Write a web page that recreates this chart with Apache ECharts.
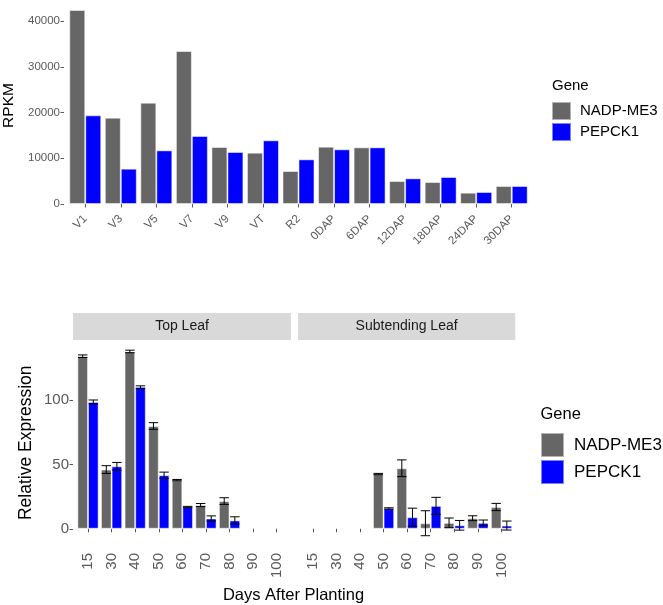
<!DOCTYPE html>
<html>
<head>
<meta charset="utf-8">
<script src="https://cdn.jsdelivr.net/npm/echarts@6/dist/echarts.min.js"></script>
<style>
  html, body { margin: 0; padding: 0; background: #fff; }
  #chart { width: 663px; height: 605px; }
</style>
</head>
<body>
<div id="chart"></div>
<script>
// RPKM by growth stage (top panel)
const stages = ['V1', 'V3', 'V5', 'V7', 'V9', 'VT', 'R2', '0DAP', '6DAP', '12DAP', '18DAP', '24DAP', '30DAP'];
const rpkmNadp = [42450, 18900, 22170, 33480, 12470, 11230, 7220, 12540, 12400, 5030, 4810, 2480, 3940];
const rpkmPepck = [19400, 7730, 11740, 14880, 11380, 13940, 9780, 11970, 12400, 5620, 5910, 2630, 3940];
const rpkmTicks = [0, 10000, 20000, 30000, 40000];

// relative expression by days after planting (bottom panels)
const days = ['15', '30', '40', '50', '60', '70', '80', '90', '100'];
const topNadpMean = [134, 46, 137.7, 79.8, 37.8, 18.4, 21.5, null, null];
const topNadpSe = [1, 3, 1, 2.6, 0.5, 1.2, 2.6, null, null];
const topPepckMean = [98.5, 48.5, 110, 41.6, 16.9, 8, 6.5, null, null];
const topPepckSe = [1.5, 3, 1, 2.4, 0.5, 2, 2.8, null, null];
const subNadpMean = [null, null, null, 42.5, 47, 4.3, 4.6, 8.2, 16.9];
const subNadpSe = [null, null, null, 0.5, 6.5, 9.7, 3.75, 1.9, 2.8];
const subPepckMean = [null, null, null, 15.8, 9, 17.8, 2.7, 4.6, 2.5];
const subPepckSe = [null, null, null, 0.5, 7, 6.6, 3.75, 2.2, 3.5];
const relTicks = [0, 50, 100];

const genes = ['NADP-ME3', 'PEPCK1'];
const geneColors = ['#666666', '#0000FF'];
const font = 'Liberation Sans, Arial, sans-serif';
const tickGray = '#595959';

const chart = echarts.init(document.getElementById('chart'));

function errData(means, ses) {
    const out = [];
    means.forEach((m, i) => {
        if (m == null) return;
        out.push([i, m - ses[i], m + ses[i]]);
    });
    return out;
}

function errorBar(side) {
    return (params, api) => {
        const idx = api.value(0);
        const lo = api.coord([idx, api.value(1)]);
        const hi = api.coord([idx, api.value(2)]);
        const band = api.size([1, 0])[0];
        const x = lo[0] + side * band * 0.225;
        const half = band * 0.2;
        const style = { stroke: '#000', lineWidth: 1 };
        return {
            type: 'group',
            children: [
                { type: 'line', shape: { x1: x, y1: lo[1], x2: x, y2: hi[1] }, style },
                { type: 'line', shape: { x1: x - half, y1: lo[1], x2: x + half, y2: lo[1] }, style },
                { type: 'line', shape: { x1: x - half, y1: hi[1], x2: x + half, y2: hi[1] }, style }
            ]
        };
    };
}

function bar(name, data, ax, color) {
    return {
        name: name,
        type: 'bar',
        xAxisIndex: ax,
        yAxisIndex: ax,
        data: data,
        barGap: '0%',
        barCategoryGap: '10%',
        itemStyle: { color: color, borderColor: 'rgba(255,255,255,0.5)', borderWidth: 1 },
        emphasis: { disabled: true }
    };
}

function errSeries(means, ses, ax, side) {
    return {
        name: 'err',
        type: 'custom',
        xAxisIndex: ax,
        yAxisIndex: ax,
        data: errData(means, ses),
        renderItem: errorBar(side),
        z: 5,
        silent: true
    };
}

const catAxis = (ax, labels, size, rotate, margin) => ({
    type: 'category',
    gridIndex: ax,
    data: labels,
    axisLine: { show: false },
    axisTick: { show: true, alignWithLabel: true, length: 3.5, lineStyle: { color: tickGray } },
    axisLabel: { color: tickGray, fontSize: size, fontFamily: font, rotate: rotate, margin: margin, interval: 0 }
});

const valAxis = (ax, min, max, ticks, size, offset, showLabels) => ({
    type: 'value',
    gridIndex: ax,
    min: min,
    max: max,
    offset: offset,
    splitLine: { show: false },
    axisLine: { show: false },
    axisTick: { show: showLabels, customValues: ticks, length: 3.5, lineStyle: { color: tickGray } },
    axisLabel: {
        show: showLabels, customValues: ticks, color: tickGray, fontSize: size, fontFamily: font, margin: 4,
        formatter: v => String(v)
    }
});

const topAxisY = valAxis(0, -1530, 44640, rpkmTicks, 11.5, 3.5, true);
topAxisY.name = 'RPKM';
topAxisY.nameLocation = 'middle';
topAxisY.nameGap = 44;
topAxisY.nameTextStyle = { color: '#000', fontSize: 15.5, fontFamily: font };

const relAxisY = valAxis(1, -12.6, 146.2, relTicks, 15, 3.2, true);
relAxisY.name = 'Relative Expression';
relAxisY.nameLocation = 'middle';
relAxisY.nameGap = 38;
relAxisY.nameTextStyle = { color: '#000', fontSize: 17.5, fontFamily: font };

chart.setOption({
    backgroundColor: '#fff',
    animation: false,
    textStyle: { fontFamily: font },
    title: [
        { text: 'Gene', left: 547, top: 73, textStyle: { fontSize: 15, fontWeight: 'normal', color: '#000', fontFamily: font } },
        { text: 'Gene', left: 535.5, top: 401, textStyle: { fontSize: 16.5, fontWeight: 'normal', color: '#000', fontFamily: font } }
    ],
    legend: [
        {
            data: genes, orient: 'vertical', left: 546, top: 96,
            icon: 'rect', itemWidth: 19, itemHeight: 18, itemGap: 1,
            selectedMode: false,
            textStyle: { fontSize: 15, color: '#000', fontFamily: font, padding: [0, 0, 0, 4] }
        },
        {
            data: genes, orient: 'vertical', left: 535, top: 427,
            icon: 'rect', itemWidth: 23, itemHeight: 24, itemGap: 1,
            selectedMode: false,
            textStyle: { fontSize: 17, color: '#000', fontFamily: font, padding: [0, 0, 0, 5] }
        }
    ],
    grid: [
        { left: 67.5, width: 462, top: 0, height: 211, outerBoundsMode: 'none' },
        { left: 76.2, width: 212.3, top: 340.5, height: 204.5, outerBoundsMode: 'none' },
        { left: 301, width: 212.3, top: 340.5, height: 204.5, outerBoundsMode: 'none' }
    ],
    xAxis: [
        catAxis(0, stages, 11.5, 45, 6),
        catAxis(1, days, 15, 90, 8),
        catAxis(2, days, 15, 90, 8)
    ],
    yAxis: [
        topAxisY,
        relAxisY,
        valAxis(2, -12.6, 146.2, relTicks, 15, 0, false)
    ],
    graphic: [
        { type: 'rect', shape: { x: 73, y: 313, width: 218, height: 27 }, style: { fill: '#D9D9D9' } },
        { type: 'text', x: 182, y: 326.5, style: { text: 'Top Leaf', fill: '#1A1A1A', fontSize: 14, fontFamily: font, align: 'center', verticalAlign: 'middle' } },
        { type: 'rect', shape: { x: 298, y: 313, width: 217.3, height: 27 }, style: { fill: '#D9D9D9' } },
        { type: 'text', x: 406.6, y: 326.5, style: { text: 'Subtending Leaf', fill: '#1A1A1A', fontSize: 14, fontFamily: font, align: 'center', verticalAlign: 'middle' } },
        { type: 'text', x: 293.5, y: 595, style: { text: 'Days After Planting', fill: '#000', fontSize: 16.5, fontFamily: font, align: 'center', verticalAlign: 'middle' } }
    ],
    series: [
        bar(genes[0], rpkmNadp, 0, geneColors[0]),
        bar(genes[1], rpkmPepck, 0, geneColors[1]),
        bar(genes[0], topNadpMean, 1, geneColors[0]),
        bar(genes[1], topPepckMean, 1, geneColors[1]),
        bar(genes[0], subNadpMean, 2, geneColors[0]),
        bar(genes[1], subPepckMean, 2, geneColors[1]),
        errSeries(topNadpMean, topNadpSe, 1, -1),
        errSeries(topPepckMean, topPepckSe, 1, 1),
        errSeries(subNadpMean, subNadpSe, 2, -1),
        errSeries(subPepckMean, subPepckSe, 2, 1)
    ]
});

window.addEventListener('resize', () => chart.resize());
</script>
</body>
</html>
